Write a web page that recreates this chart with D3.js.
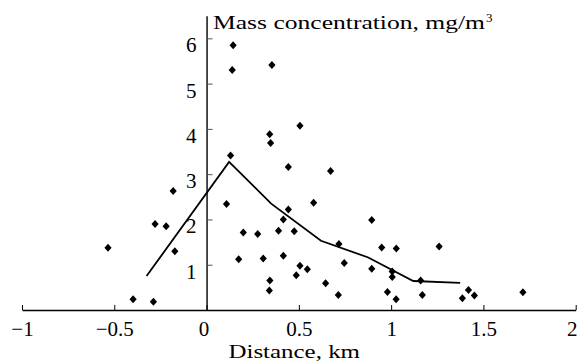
<!DOCTYPE html>
<html>
<head>
<meta charset="utf-8">
<script src="https://cdn.jsdelivr.net/npm/d3@7"></script>
<style>
  html, body { margin: 0; padding: 0; background: #fff; }
  svg { display: block; }
  svg text { font-family: "Liberation Serif", "DejaVu Serif", "Noto Serif", serif !important; fill: #000; }
</style>
</head>
<body>
<svg id="chart" width="579" height="363"></svg>
<script>
const xTicks = [-1, -0.5, 0, 0.5, 1, 1.5, 2];
const yTicks = [1, 2, 3, 4, 5, 6];

const pointX = [-0.534, -0.181, -0.279, -0.219, -0.172, -0.398, -0.288,
  0.144, 0.139, 0.354, 0.342, 0.347, 0.506, 0.130, 0.443, 0.672, 0.108,
  0.580, 0.443, 0.416, 0.199, 0.277, 0.390, 0.475, 0.174, 0.307, 0.416,
  0.506, 0.546, 0.486, 0.343, 0.340, 0.645, 0.895, 0.717, 0.949, 1.028,
  1.260, 0.746, 0.895, 1.006, 1.006, 0.714, 0.980, 1.027, 1.160, 1.169,
  1.419, 1.386, 1.451, 1.714];
const pointY = [1.375, 2.63, 1.90, 1.85, 1.30, 0.24, 0.18,
  5.85, 5.30, 5.41, 3.88, 3.69, 4.07, 3.41, 3.16, 3.07, 2.34,
  2.37, 2.22, 2.00, 1.71, 1.68, 1.75, 1.74, 1.12, 1.14, 1.20,
  0.98, 0.90, 0.77, 0.65, 0.43, 0.59, 1.99, 1.46, 1.38, 1.36,
  1.40, 1.04, 0.91, 0.85, 0.73, 0.33, 0.40, 0.24, 0.65, 0.33,
  0.44, 0.26, 0.32, 0.39];

const lineX = [-0.325, 0.122, 0.35, 0.62, 0.876, 1.12, 1.374];
const lineY = [0.75, 3.27, 2.35, 1.53, 1.16, 0.64, 0.60];

const yTitle = "Mass concentration, mg/m";
const yTitleSup = "3";
const xTitle = "Distance, km";

const svg = d3.select("#chart");
const x = d3.scaleLinear().domain([-1, 2]).range([22, 575.7]);
const y = d3.scaleLinear().domain([0, 6.5]).range([310, 15.7]);

// X axis
const xAxis = svg.append("g")
  .attr("transform", `translate(0,${y(0)})`)
  .call(d3.axisBottom(x).tickValues(xTicks).tickSizeInner(-5).tickSizeOuter(0)
    .tickFormat(d => (d < 0 ? "\u2212" : "") + Math.abs(d)));
xAxis.attr("font-family", null).attr("font-size", null);
xAxis.select(".domain").attr("stroke", "#000").attr("stroke-width", 1.4);
xAxis.selectAll(".tick line").attr("stroke", "#000").attr("stroke-width", 1);
xAxis.selectAll(".tick text").attr("y", 26).attr("dy", 0)
  .style("font-size", "21px")
  .attr("dx", d => d === 2 ? -4 : (d === 0 ? -3 : 0));

// Y axis
const yAxis = svg.append("g")
  .attr("transform", `translate(${x(0)},0)`)
  .call(d3.axisLeft(y).tickValues(yTicks).tickSizeInner(-6).tickSizeOuter(0)
    .tickFormat(d3.format("d")));
yAxis.attr("font-family", null).attr("font-size", null);
yAxis.select(".domain").attr("stroke", "#000").attr("stroke-width", 1.4);
yAxis.selectAll(".tick line").attr("stroke", "#555").attr("stroke-width", 1);
yAxis.selectAll(".tick text").attr("x", -10).attr("dy", 0).attr("y", 13.5)
  .style("font-size", "21px");

// Line
const lineData = lineX.map((v, i) => [v, lineY[i]]);
svg.append("path")
  .datum(lineData)
  .attr("fill", "none")
  .attr("stroke", "#000")
  .attr("stroke-width", 1.8)
  .attr("d", d3.line().x(d => x(d[0])).y(d => y(d[1])));

// Points
const pts = pointX.map((v, i) => [v, pointY[i]]);
svg.append("g").selectAll("path")
  .data(pts)
  .join("path")
  .attr("transform", d => `translate(${x(d[0])},${y(d[1])})`)
  .attr("d", "M0,-4L3.6,0L0,4L-3.6,0Z")
  .attr("fill", "#000");

// Titles
svg.append("text")
  .attr("x", 213).attr("y", 29)
  .style("font-size", "19px")
  .attr("textLength", 272).attr("lengthAdjust", "spacingAndGlyphs")
  .text(yTitle);
svg.append("text")
  .attr("x", 486).attr("y", 22)
  .style("font-size", "13px")
  .text(yTitleSup);

svg.append("text")
  .attr("x", 228.5).attr("y", 358)
  .style("font-size", "19px")
  .attr("textLength", 131.5).attr("lengthAdjust", "spacingAndGlyphs")
  .text(xTitle);
</script>
</body>
</html>
